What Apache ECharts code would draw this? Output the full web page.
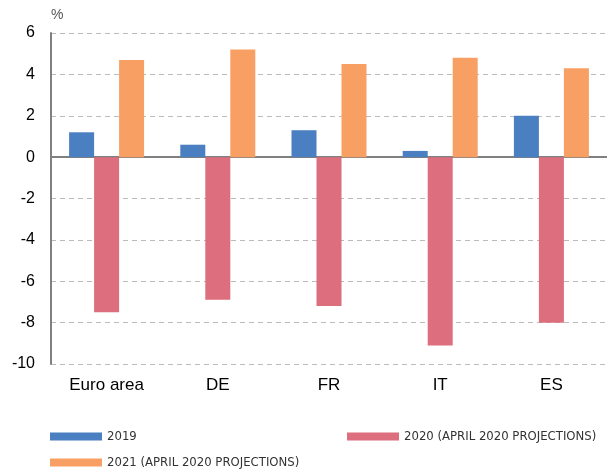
<!DOCTYPE html>
<html>
<head>
<meta charset="utf-8">
<script src="https://cdn.jsdelivr.net/npm/echarts@6/dist/echarts.min.js"></script>
<style>
  html, body { margin: 0; padding: 0; background: #fff; }
  #chart { width: 607px; height: 470px; }
</style>
</head>
<body>
<div id="chart"></div>
<script>
// chart data
var categories = ["Euro area", "DE", "FR", "IT", "ES"];
var gdp2019 = [1.2, 0.6, 1.3, 0.3, 2.0];
var gdp2020 = [-7.5, -6.9, -7.2, -9.1, -8.0];
var gdp2021 = [4.7, 5.2, 4.5, 4.8, 4.3];
var seriesNames = ["2019", "2020 (APRIL 2020 PROJECTIONS)", "2021 (APRIL 2020 PROJECTIONS)"];

var colors = ["#4a7fc1", "#dc6e7e", "#f89f63"];
var chart = echarts.init(document.getElementById("chart"));

var legendText = {
  fontFamily: "DejaVu Sans Condensed, Liberation Sans, sans-serif",
  fontSize: 13,
  color: "#333"
};

function legendAt(name, left, top) {
  return {
    data: [name],
    left: left,
    top: top,
    padding: 0,
    itemWidth: 52,
    itemHeight: 8,
    icon: "rect",
    textStyle: legendText
  };
}

function barSeries(i, values) {
  return {
    name: seriesNames[i],
    type: "bar",
    data: values,
    barWidth: 25,
    barGap: "0%"
  };
}

var option = {
  animation: false,
  color: colors,
  legend: [
    legendAt(seriesNames[0], 50, 430),
    legendAt(seriesNames[1], 347, 430),
    legendAt(seriesNames[2], 50, 456)
  ],
  grid: { left: 51, right: -6, top: 33, bottom: 106 },
  xAxis: [
    {
      type: "category",
      data: categories,
      axisLine: { onZero: true, lineStyle: { color: "#808080", width: 2 } },
      axisTick: { length: 5, lineStyle: { color: "#808080", width: 1.5 } },
      axisLabel: { show: false }
    },
    {
      type: "category",
      data: categories,
      axisLine: { onZero: true, show: false },
      axisTick: { inside: true, length: 5, lineStyle: { color: "#808080", width: 1.5 } },
      axisLabel: { show: false }
    },
    {
      type: "category",
      data: categories,
      position: "bottom",
      axisLine: { onZero: false, show: false },
      axisTick: { show: false },
      axisLabel: { color: "#000", fontSize: 17, fontFamily: "Liberation Sans", margin: 13 }
    }
  ],
  yAxis: {
    type: "value",
    min: -10,
    max: 6,
    interval: 2,
    name: "%",
    nameLocation: "end",
    nameGap: 11,
    nameTextStyle: { color: "#555", fontSize: 14, fontFamily: "Liberation Sans", align: "left" },
    axisLine: { show: true, lineStyle: { color: "#808080", width: 2 } },
    axisTick: { show: false },
    axisLabel: { color: "#000", fontSize: 16, fontFamily: "Liberation Sans", margin: 16 },
    splitLine: {
      show: true,
      lineStyle: { color: "#bbb", type: [5, 4], width: 1 }
    }
  },
  series: [
    barSeries(0, gdp2019),
    barSeries(1, gdp2020),
    barSeries(2, gdp2021)
  ]
};

chart.setOption(option);
</script>
</body>
</html>
